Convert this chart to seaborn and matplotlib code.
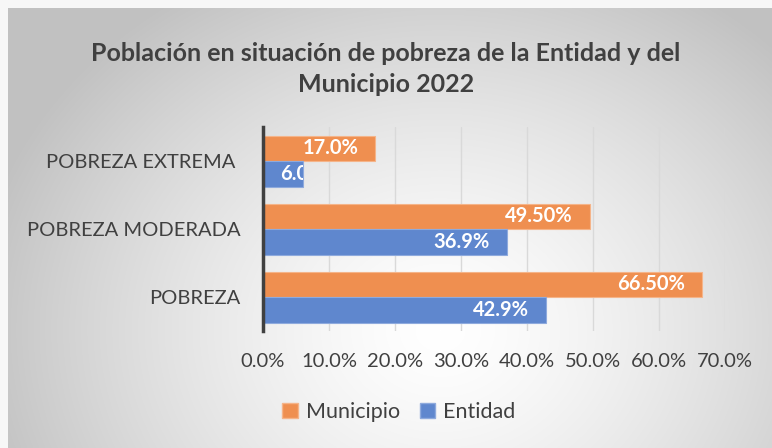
import numpy as np
import pandas as pd
import matplotlib
matplotlib.use("Agg")
import matplotlib.pyplot as plt
import matplotlib.transforms as mtransforms
from matplotlib.patches import Patch
from matplotlib.ticker import FuncFormatter, MultipleLocator
import seaborn as sns

# ---- data ----
categories = ["POBREZA EXTREMA ", "POBREZA MODERADA", "POBREZA"]
series = ["Municipio", "Entidad"]
municipio = [17.0, 49.5, 66.5]
entidad = [6.0, 36.9, 42.9]
municipio_labels = ["17.0%", "49.50%", "66.50%"]
entidad_labels = ["6.0%", "36.9%", "42.9%"]
x_ticks = [0, 10, 20, 30, 40, 50, 60, 70]
title = "Población en situación de pobreza de la Entidad y del\nMunicipio 2022"

colors = ["#EF8F50", "#5F87CE"]
edge_colors = ["#F5B489", "#8EAADD"]
text_color = "#404040"

df = pd.DataFrame({
    "Categoria": categories * 2,
    "Serie": [series[0]] * len(categories) + [series[1]] * len(categories),
    "Valor": municipio + entidad,
})

sns.set_theme(style="white")
plt.rcParams['font.family'] = ['Lato', 'DejaVu Sans']

W, H = 772, 448
fig = plt.figure(figsize=(W / 100, H / 100), dpi=100)
fig.patch.set_facecolor("white")

# ---- gradient background ----
bg = fig.add_axes([0, 0, 1, 1], zorder=-10)
yy, xx = np.mgrid[0:H, 0:W]
d = np.hypot((xx - 440) / 1.0, (yy - 330) / 0.85)
t = np.clip(d / 470, 0, 1)
g = 1 - 0.24 * t ** 1.4
img = np.dstack([g, g, g])
img[:8, :, :] = 0.97
img[:, :8, :] = 0.97
bg.imshow(img, extent=[0, W, H, 0], aspect='auto', interpolation='bilinear')
bg.set_xlim(0, W)
bg.set_ylim(H, 0)
bg.axis('off')

# ---- main axes ----
ax_left, ax_right, ax_top, ax_bottom = 263, 725, 127, 331
ax = fig.add_axes([ax_left / W, 1 - ax_bottom / H, (ax_right - ax_left) / W, (ax_bottom - ax_top) / H])
ax.patch.set_alpha(0)

sns.barplot(data=df, y="Categoria", x="Valor", hue="Serie", order=categories,
            hue_order=series, palette=colors, orient='h', width=0.75, ax=ax,
            legend=False, saturation=1)

for cont, ec in zip(ax.containers, edge_colors):
    for bar in cont:
        bar.set_edgecolor(ec)
        bar.set_linewidth(0.8)

ax.set_xlim(x_ticks[0], x_ticks[-1])
ax.xaxis.set_major_locator(MultipleLocator(10))
ax.xaxis.set_major_formatter(FuncFormatter(lambda v, p: f"{v:.1f}%"))
ax.xaxis.grid(True, color="#D9D9D9", linewidth=1)
ax.yaxis.grid(False)
ax.set_axisbelow(True)
ax.set_xlabel("")
ax.set_ylabel("")
for s in ["top", "right", "bottom"]:
    ax.spines[s].set_visible(False)
ax.spines["left"].set_color("#404040")
ax.spines["left"].set_linewidth(2.5)
ax.tick_params(axis='both', length=0, labelsize=14.5, labelcolor=text_color)
ax.tick_params(axis='x', pad=16)
ax.tick_params(axis='y', pad=16)

# ---- data labels ----
fig.canvas.draw()
renderer = fig.canvas.get_renderer()
pad_in = 17 / 100
x0_pix = ax.transData.transform((0, 0))[0]
for cont, labels in zip(ax.containers, [municipio_labels, entidad_labels]):
    for bar, lab in zip(cont, labels):
        yc = bar.get_y() + bar.get_height() / 2
        xe = bar.get_x() + bar.get_width()
        tr = ax.transData + mtransforms.ScaledTranslation(-pad_in, 0, fig.dpi_scale_trans)
        txt = ax.text(xe, yc, lab, transform=tr, ha='right', va='center',
                      color='white', fontsize=14.5, fontweight='bold')
        bb = txt.get_window_extent(renderer)
        if bb.x0 < x0_pix + 17:
            txt.set_transform(ax.transData + mtransforms.ScaledTranslation(pad_in, 0, fig.dpi_scale_trans))
            txt.set_x(0)
            txt.set_ha('left')
        txt.set_clip_on(True)
        txt.set_clip_box(mtransforms.TransformedBbox(bar.get_bbox(), ax.transData))

# ---- title ----
fig.text(386 / W, 1 - 69 / H, title, ha='center', va='center', fontsize=18,
         fontweight='bold', color=text_color, linespacing=1.45)

# ---- legend ----
handles = [Patch(facecolor=c, edgecolor=ec) for c, ec in zip(colors, edge_colors)]
fig.legend(handles, series, loc='center', bbox_to_anchor=(399 / W, 1 - 412 / H),
           ncol=2, frameon=False, fontsize=15.5, handlelength=0.7, handleheight=0.7,
           handletextpad=0.4, columnspacing=0.9, labelcolor=text_color)

fig.savefig("out.png", dpi=100)
